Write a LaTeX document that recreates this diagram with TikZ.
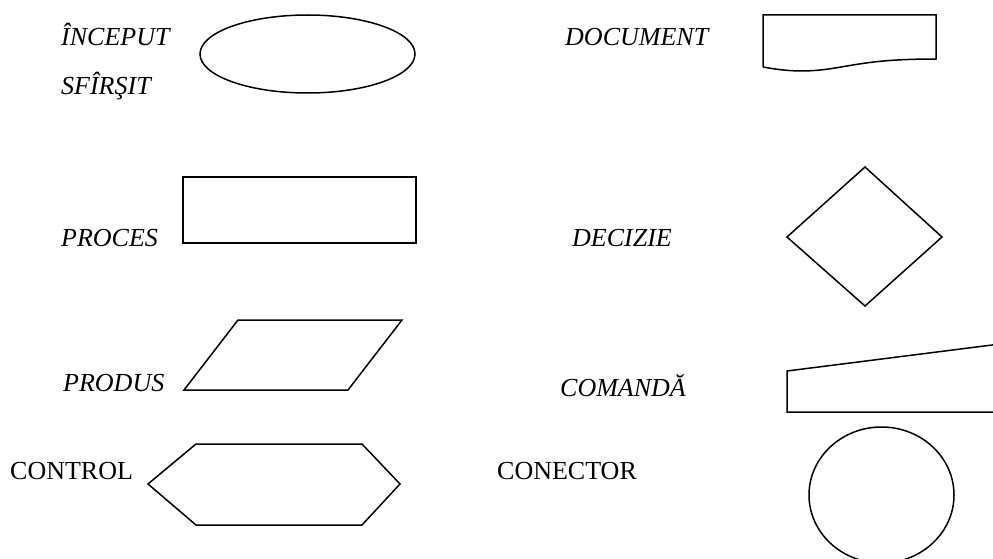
\documentclass[tikz,border=0pt]{standalone}
\usepackage{fontspec}
\setmainfont{Liberation Serif}
\begin{document}
\begin{tikzpicture}[x=1pt,y=-1pt,
  shapeline/.style={draw=black,line width=1.5pt,line join=miter},
  label/.style={anchor=base west,inner sep=0pt,font=\fontsize{26}{30}\selectfont\itshape},
  biglabel/.style={anchor=base west,inner sep=0pt,font=\fontsize{26}{30}\selectfont}]
\useasboundingbox (0,0) rectangle (993,559);
\clip (0,0) rectangle (993,559);

% labels
\node[label] (inceput) at (61,46) {ÎNCEPUT};
\node[label] (sfarsit) at (61,95) {SFÎRŞIT};
\node[label] (proces) at (61,246) {PROCES};
\node[label] (produs) at (63,391) {PRODUS};
\node[label] (document) at (565,46) {DOCUMENT};
\node[label] (decizie) at (572,246) {DECIZIE};
\node[label] (comanda) at (560,396) {COMANDĂ};
\node[biglabel] (control) at (10,479) {CONTROL};
\node[biglabel] (conector) at (497,479) {CONECTOR};

% terminal
\draw[shapeline] (307.5,54) ellipse [x radius=107.5,y radius=39];
% process
\draw[shapeline] (183,177) rectangle (416,243);
% input / output
\draw[shapeline] (238,320) -- (402,320) -- (348,390) -- (184,390) -- cycle;
% control (preparation)
\draw[shapeline] (148,484) -- (196,444) -- (362,444) -- (400,484) -- (362,525) -- (196,525) -- cycle;
% document
\draw[shapeline] (763,67) -- (763,15) -- (936,15) -- (936,59)
  .. controls (880,59) and (860,64) .. (835,68)
  .. controls (805,73) and (785,71) .. (763,67);
% decision
\draw[shapeline] (865,167) -- (942,237) -- (865,306) -- (787,237) -- cycle;
% manual input
\draw[shapeline] (1000,344) -- (787,371) -- (787,412) -- (1000,412);
% connector
\draw[shapeline] (881.5,495) ellipse [x radius=72.5,y radius=68];
\end{tikzpicture}
\end{document}
